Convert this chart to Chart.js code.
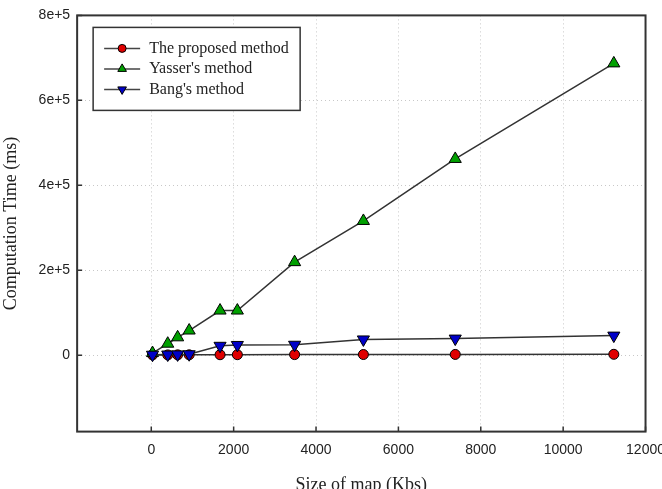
<!DOCTYPE html>
<html>
<head>
<meta charset="utf-8">
<script src="https://cdn.jsdelivr.net/npm/chart.js@4.4.1/dist/chart.umd.min.js"></script>
<style>
  html, body { margin: 0; padding: 0; overflow: hidden; background: #fff; }
  canvas { display: block; }
</style>
</head>
<body>
<canvas id="chart" width="675" height="500"></canvas>
<script>
// Computation time vs. map size
const mapSizes = [30, 400, 640, 920, 1670, 2090, 3480, 5150, 7380, 11230];
const proposedTimes = [500, 600, 700, 800, 1000, 1100, 1300, 1500, 1700, 2000];
const yasserTimes = [5000, 27000, 42000, 58000, 105000, 105000, 219000, 316000, 462000, 687000];
const bangTimes = [1000, 1500, 1800, 2200, 22000, 24000, 24500, 37000, 39000, 46000];

const xTicks = [0, 2000, 4000, 6000, 8000, 10000, 12000];
const yTicks = [0, 200000, 400000, 600000, 800000];
const yTickLabels = ['0', '2e+5', '4e+5', '6e+5', '8e+5'];

const seriesNames = ['The proposed method', "Yasser's method", "Bang's method"];

function points(ys) {
    return mapSizes.map((x, i) => ({ x: x, y: ys[i] }));
}

const sansFont = { family: 'Liberation Sans, Arial, sans-serif', size: 14 };
const serifFont = { family: 'Liberation Serif, Times New Roman, serif', size: 18 };

// frame round the plot with small inward ticks
const framePlugin = {
    id: 'frame',
    beforeDatasetsDraw(chart) {
        const { ctx, chartArea: a, scales } = chart;
        ctx.save();
        ctx.strokeStyle = '#333';
        ctx.lineWidth = 1.5;
        ctx.beginPath();
        xTicks.forEach(v => {
            const px = scales.x.getPixelForValue(v);
            ctx.moveTo(px, a.bottom);
            ctx.lineTo(px, a.bottom - 5);
        });
        yTicks.forEach(v => {
            const py = scales.y.getPixelForValue(v);
            ctx.moveTo(a.left, py);
            ctx.lineTo(a.left + 5, py);
        });
        ctx.stroke();
        ctx.lineWidth = 2;
        ctx.strokeRect(a.left, a.top, a.right - a.left, a.bottom - a.top);
        ctx.restore();
    }
};

// legend box with line + marker samples
const legendPlugin = {
    id: 'boxLegend',
    afterDraw(chart) {
        const { ctx, chartArea: a } = chart;
        const bx = a.left + 16, by = a.top + 12, bw = 207, bh = 83;
        ctx.save();
        ctx.fillStyle = '#fff';
        ctx.fillRect(bx, by, bw, bh);
        ctx.strokeStyle = '#333';
        ctx.lineWidth = 1.5;
        ctx.strokeRect(bx, by, bw, bh);
        ctx.font = serifFont.size - 2 + 'px ' + serifFont.family;
        ctx.textBaseline = 'middle';
        chart.data.datasets.forEach((ds, i) => {
            const y = by + 21 + i * 20.5;
            ctx.strokeStyle = '#444';
            ctx.lineWidth = 1.5;
            ctx.beginPath();
            ctx.moveTo(bx + 11, y);
            ctx.lineTo(bx + 47, y);
            ctx.stroke();
            ctx.fillStyle = ds.pointBackgroundColor;
            ctx.strokeStyle = '#000';
            ctx.lineWidth = 1;
            Chart.helpers.drawPoint(ctx, {
                pointStyle: ds.pointStyle,
                radius: ds.pointStyle === 'circle' ? 4 : 5,
                rotation: ds.pointRotation || 0,
                borderWidth: 1
            }, bx + 29, y);
            ctx.fillStyle = '#222';
            ctx.fillText(seriesNames[i], bx + 56, y);
        });
        ctx.restore();
    }
};

new Chart(document.getElementById('chart'), {
    type: 'line',
    data: {
        datasets: [
            {
                label: seriesNames[0],
                data: points(proposedTimes),
                borderColor: '#333',
                borderWidth: 1.5,
                pointStyle: 'circle',
                pointRadius: 5,
                pointBackgroundColor: '#e00000',
                pointBorderColor: '#000',
                pointBorderWidth: 1,
                order: 2
            },
            {
                label: seriesNames[1],
                data: points(yasserTimes),
                borderColor: '#333',
                borderWidth: 1.5,
                pointStyle: 'triangle',
                pointRadius: 7,
                pointBackgroundColor: '#00a000',
                pointBorderColor: '#000',
                pointBorderWidth: 1,
                order: 1
            },
            {
                label: seriesNames[2],
                data: points(bangTimes),
                borderColor: '#333',
                borderWidth: 1.5,
                pointStyle: 'triangle',
                pointRotation: 180,
                pointRadius: 7,
                pointBackgroundColor: '#0000c8',
                pointBorderColor: '#000',
                pointBorderWidth: 1,
                order: 0
            }
        ]
    },
    options: {
        responsive: false,
        animation: false,
        devicePixelRatio: 1,
        layout: { padding: { top: 15, left: 0, right: 0, bottom: 0 } },
        elements: { line: { tension: 0 } },
        plugins: {
            legend: { display: false },
            tooltip: { enabled: false }
        },
        scales: {
            x: {
                type: 'linear',
                min: -1800,
                max: 12000,
                afterBuildTicks: axis => { axis.ticks = xTicks.map(v => ({ value: v })); },
                ticks: { font: sansFont, color: '#222', padding: 10, callback: v => String(v) },
                grid: { color: '#c8c8c8', drawTicks: false },
                border: { display: false, dash: [1, 3] },
                title: {
                    display: true,
                    text: 'Size of map (Kbs)',
                    font: serifFont,
                    color: '#222',
                    padding: { top: 6, bottom: 4 }
                }
            },
            y: {
                type: 'linear',
                min: -180000,
                max: 800000,
                afterBuildTicks: axis => { axis.ticks = yTicks.map(v => ({ value: v })); },
                ticks: {
                    font: sansFont,
                    color: '#222',
                    padding: 7,
                    callback: v => yTickLabels[yTicks.indexOf(v)]
                },
                grid: { color: '#c8c8c8', drawTicks: false },
                border: { display: false, dash: [1, 3] },
                title: {
                    display: true,
                    text: 'Computation Time (ms)',
                    font: serifFont,
                    color: '#222',
                    padding: { top: 0, bottom: 10 }
                }
            }
        }
    },
    plugins: [framePlugin, legendPlugin]
});
</script>
</body>
</html>
